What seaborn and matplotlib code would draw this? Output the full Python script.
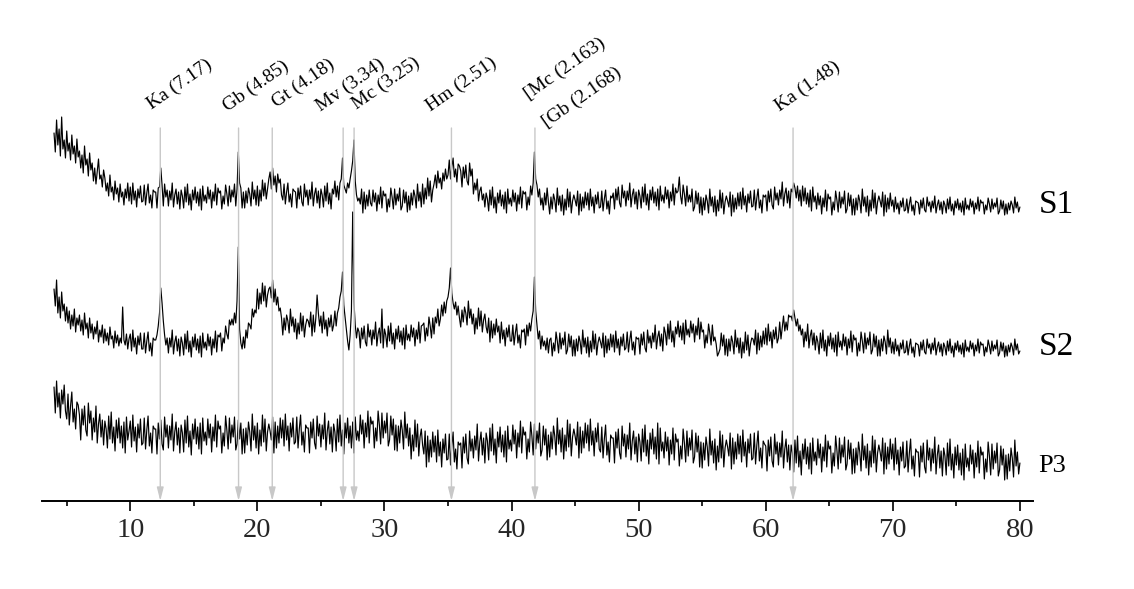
import numpy as np
import pandas as pd
import seaborn as sns
import matplotlib.pyplot as plt
from matplotlib.ticker import MultipleLocator

# ---------------- data ----------------
# 2-theta grid: 4.0 .. 80.0 deg, 0.1 deg step (one row below = one degree)
theta_start, theta_step = 4.0, 0.1

s1_counts = [
    368, 349, 381, 356, 372, 345, 384, 352, 361, 343,  # 4
    370, 350, 358, 341, 366, 347, 355, 338, 362, 344,  # 5
    350, 333, 346, 328, 355, 336, 342, 325, 348, 331,  # 6
    338, 320, 333, 317, 329, 342, 322, 326, 314, 331,  # 7
    323, 310, 318, 305, 326, 309, 314, 301, 320, 307,  # 8
    313, 299, 317, 304, 309, 296, 312, 303, 318, 300,  # 9
    314, 297, 318, 301, 310, 294, 312, 303, 315, 299,  # 10
    300, 316, 296, 308, 317, 298, 306, 293, 311, 309,  # 11
    309, 293, 313, 314, 333, 316, 295, 317, 304, 311,  # 12
    295, 310, 301, 318, 294, 306, 312, 297, 309, 292,  # 13
    311, 305, 293, 314, 299, 317, 296, 307, 291, 311,  # 14
    301, 314, 298, 309, 295, 312, 291, 315, 300, 306,  # 15
    298, 314, 302, 311, 293, 309, 300, 317, 296, 313,  # 16
    308, 310, 292, 305, 297, 316, 307, 295, 315, 299,  # 17
    311, 304, 317, 295, 312, 349, 318, 313, 293, 309,  # 18
    293, 310, 298, 313, 307, 295, 319, 302, 311, 296,  # 19
    315, 295, 311, 300, 321, 305, 318, 302, 312, 322,  # 20
    329, 312, 333, 316, 325, 309, 327, 318, 322, 306,  # 21
    301, 317, 297, 309, 318, 299, 307, 294, 312, 310,  # 22
    309, 293, 313, 302, 315, 299, 295, 317, 304, 311,  # 23
    296, 311, 302, 319, 295, 307, 313, 298, 310, 293,  # 24
    312, 306, 294, 315, 300, 318, 297, 308, 292, 312,  # 25
    307, 320, 304, 315, 301, 318, 322, 343, 316, 312,  # 26
    308, 318, 313, 322, 330, 340, 361, 320, 306, 300,  # 27
    303, 297, 312, 288, 309, 292, 306, 295, 311, 298,  # 28
    295, 311, 299, 308, 290, 306, 297, 314, 293, 310,  # 29
    305, 307, 289, 302, 294, 313, 304, 292, 312, 296,  # 30
    307, 300, 313, 291, 295, 311, 298, 309, 289, 305,  # 31
    291, 308, 296, 311, 305, 293, 317, 300, 309, 294,  # 32
    317, 297, 313, 302, 323, 305, 320, 299, 311, 317,  # 33
    326, 313, 330, 318, 323, 312, 328, 320, 332, 322,  # 34
    326, 341, 322, 334, 343, 324, 332, 319, 337, 335,  # 35
    330, 314, 334, 323, 336, 320, 316, 338, 325, 332,  # 36
    307, 318, 311, 322, 300, 310, 314, 301, 307, 294,  # 37
    308, 302, 290, 311, 296, 314, 293, 304, 288, 308,  # 38
    298, 311, 295, 306, 292, 309, 288, 312, 297, 303,  # 39
    295, 311, 299, 308, 290, 306, 297, 314, 293, 310,  # 40
    307, 309, 291, 304, 296, 315, 306, 318, 349, 322,  # 41
    316, 304, 312, 296, 303, 291, 308, 296, 313, 299,  # 42
    287, 304, 292, 307, 301, 289, 313, 296, 305, 290,  # 43
    306, 286, 302, 291, 312, 294, 309, 288, 300, 306,  # 44
    301, 295, 310, 286, 307, 290, 304, 293, 309, 296,  # 45
    308, 291, 312, 295, 304, 288, 306, 297, 309, 293,  # 46
    294, 310, 290, 302, 311, 292, 300, 287, 305, 303,  # 47
    308, 292, 312, 301, 314, 298, 294, 316, 303, 310,  # 48
    295, 310, 301, 318, 294, 306, 312, 297, 309, 292,  # 49
    311, 305, 293, 314, 299, 317, 296, 307, 291, 311,  # 50
    301, 314, 298, 309, 295, 312, 291, 315, 300, 306,  # 51
    298, 314, 302, 311, 293, 309, 300, 317, 296, 313,  # 52
    308, 310, 324, 305, 297, 316, 307, 295, 315, 299,  # 53
    306, 299, 312, 290, 294, 310, 297, 308, 288, 304,  # 54
    286, 303, 291, 306, 300, 288, 312, 295, 304, 289,  # 55
    305, 285, 301, 290, 311, 293, 308, 287, 299, 305,  # 56
    300, 294, 309, 285, 306, 289, 303, 292, 308, 295,  # 57
    309, 292, 313, 296, 305, 289, 307, 298, 310, 294,  # 58
    295, 311, 291, 303, 312, 293, 301, 288, 306, 304,  # 59
    306, 290, 310, 299, 312, 296, 292, 314, 301, 308,  # 60
    296, 311, 302, 319, 295, 307, 313, 298, 310, 293,  # 61
    312, 309, 318, 313, 303, 315, 300, 311, 295, 315,  # 62
    300, 313, 297, 308, 294, 311, 290, 314, 299, 305,  # 63
    292, 308, 296, 305, 287, 303, 294, 311, 290, 307,  # 64
    302, 304, 286, 299, 291, 310, 301, 289, 309, 293,  # 65
    304, 297, 310, 288, 292, 308, 295, 306, 286, 302,  # 66
    286, 303, 291, 306, 300, 288, 312, 295, 304, 289,  # 67
    305, 285, 301, 290, 311, 293, 308, 287, 299, 305,  # 68
    300, 294, 309, 285, 306, 289, 303, 292, 308, 295,  # 69
    301, 289, 304, 292, 298, 287, 300, 294, 303, 290,  # 70
    291, 302, 288, 297, 304, 290, 296, 286, 300, 299,  # 71
    298, 287, 301, 293, 303, 291, 289, 304, 295, 299,  # 72
    289, 300, 293, 305, 288, 296, 301, 291, 299, 287,  # 73
    300, 296, 288, 302, 292, 304, 290, 297, 286, 300,  # 74
    293, 302, 291, 298, 289, 300, 286, 303, 292, 296,  # 75
    291, 302, 294, 300, 287, 298, 292, 304, 290, 301,  # 76
    298, 299, 287, 296, 291, 303, 297, 289, 302, 292,  # 77
    298, 294, 303, 287, 290, 301, 292, 300, 286, 297,  # 78
    287, 298, 291, 300, 296, 288, 304, 293, 299, 289,  # 79
    294,                                               # 80
]

s2_counts = [
    212, 195, 221, 188, 204, 183, 209, 190, 197, 180,  # 4
    194, 178, 190, 172, 186, 175, 192, 169, 183, 176,  # 5
    186, 170, 181, 166, 188, 172, 178, 163, 183, 168,  # 6
    177, 162, 174, 167, 180, 159, 171, 164, 176, 158,  # 7
    172, 160, 168, 156, 174, 162, 165, 153, 170, 158,  # 8
    166, 155, 163, 158, 194, 161, 156, 167, 152, 162,  # 9
    167, 150, 171, 154, 163, 147, 165, 156, 168, 152,  # 10
    152, 168, 148, 160, 169, 150, 158, 145, 163, 161,  # 11
    161, 166, 175, 188, 213, 198, 180, 166, 156, 163,  # 12
    148, 163, 154, 171, 147, 159, 165, 150, 162, 145,  # 13
    164, 158, 146, 167, 152, 170, 149, 160, 144, 164,  # 14
    154, 167, 151, 162, 148, 165, 144, 168, 153, 159,  # 15
    151, 167, 155, 164, 146, 162, 153, 170, 149, 166,  # 16
    164, 168, 150, 163, 158, 175, 167, 162, 181, 176,  # 17
    182, 176, 188, 178, 200, 254, 172, 158, 152, 164,  # 18
    153, 171, 163, 178, 176, 172, 192, 184, 191, 188,  # 19
    212, 192, 208, 197, 218, 200, 215, 194, 206, 212,  # 20
    214, 203, 221, 199, 212, 196, 204, 190, 193, 183,  # 21
    166, 183, 171, 186, 180, 168, 192, 175, 184, 169,  # 22
    182, 162, 178, 167, 188, 170, 185, 164, 176, 182,  # 23
    180, 174, 189, 165, 186, 169, 183, 206, 188, 175,  # 24
    185, 168, 189, 172, 181, 165, 183, 174, 186, 170,  # 25
    176, 190, 175, 188, 193, 204, 210, 229, 196, 184,  # 26
    172, 160, 151, 166, 190, 289, 199, 176, 163, 173,  # 27
    169, 153, 173, 162, 175, 159, 155, 177, 164, 171,  # 28
    156, 171, 162, 179, 155, 167, 173, 158, 192, 153,  # 29
    172, 166, 154, 175, 160, 178, 157, 168, 152, 172,  # 30
    162, 175, 159, 170, 156, 173, 152, 176, 161, 167,  # 31
    160, 176, 164, 173, 155, 171, 162, 179, 158, 175,  # 32
    176, 178, 160, 173, 165, 184, 175, 163, 183, 167,  # 33
    184, 178, 192, 175, 182, 196, 185, 199, 188, 200,  # 34
    204, 213, 233, 208, 198, 192, 199, 186, 195, 183,  # 35
    174, 191, 179, 194, 188, 176, 200, 183, 192, 177,  # 36
    187, 167, 183, 172, 193, 175, 190, 169, 181, 187,  # 37
    174, 168, 183, 159, 180, 163, 177, 166, 182, 169,  # 38
    175, 158, 179, 162, 171, 155, 173, 164, 176, 160,  # 39
    160, 176, 156, 168, 177, 158, 166, 153, 171, 169,  # 40
    172, 156, 176, 165, 178, 170, 182, 190, 224, 190,  # 41
    176, 162, 170, 152, 165, 155, 160, 151, 163, 148,  # 42
    161, 163, 145, 158, 150, 169, 160, 148, 168, 152,  # 43
    163, 156, 169, 147, 151, 167, 154, 165, 145, 161,  # 44
    145, 162, 150, 165, 159, 147, 171, 154, 163, 148,  # 45
    164, 144, 160, 149, 170, 152, 167, 146, 158, 164,  # 46
    159, 153, 168, 144, 165, 148, 162, 151, 167, 154,  # 47
    166, 149, 170, 153, 162, 146, 164, 155, 167, 151,  # 48
    153, 169, 149, 161, 170, 151, 159, 146, 164, 162,  # 49
    163, 147, 167, 156, 169, 153, 149, 171, 158, 165,  # 50
    153, 168, 159, 176, 152, 164, 170, 155, 167, 150,  # 51
    174, 168, 156, 177, 162, 180, 159, 170, 154, 174,  # 52
    167, 180, 164, 175, 161, 178, 157, 181, 166, 172,  # 53
    164, 180, 168, 177, 159, 175, 166, 183, 162, 179,  # 54
    169, 171, 153, 166, 158, 177, 168, 156, 176, 160,  # 55
    164, 157, 145, 148, 152, 168, 155, 166, 146, 162,  # 56
    145, 162, 150, 165, 159, 147, 171, 154, 163, 148,  # 57
    163, 143, 159, 148, 169, 151, 166, 145, 157, 163,  # 58
    162, 156, 171, 147, 168, 151, 165, 154, 170, 157,  # 59
    173, 156, 177, 160, 169, 153, 171, 162, 174, 158,  # 60
    163, 179, 162, 174, 185, 170, 179, 171, 186, 184,  # 61
    185, 180, 191, 183, 175, 182, 170, 176, 166, 172,  # 62
    154, 169, 160, 177, 153, 165, 171, 156, 168, 151,  # 63
    165, 159, 147, 168, 153, 171, 150, 161, 145, 165,  # 64
    155, 168, 152, 163, 149, 166, 145, 169, 154, 160,  # 65
    151, 167, 155, 164, 146, 162, 153, 170, 149, 166,  # 66
    161, 163, 145, 158, 150, 169, 160, 148, 168, 152,  # 67
    163, 156, 169, 147, 151, 167, 154, 165, 145, 161,  # 68
    145, 162, 150, 165, 159, 147, 171, 154, 163, 148,  # 69
    159, 147, 162, 150, 156, 145, 158, 152, 161, 148,  # 70
    149, 160, 146, 155, 162, 148, 154, 144, 158, 157,  # 71
    156, 145, 159, 151, 161, 149, 147, 162, 153, 157,  # 72
    147, 158, 151, 163, 146, 154, 159, 149, 157, 145,  # 73
    158, 154, 146, 160, 150, 162, 148, 155, 144, 158,  # 74
    151, 160, 149, 156, 147, 158, 144, 161, 150, 154,  # 75
    149, 160, 152, 158, 145, 156, 150, 162, 148, 159,  # 76
    156, 157, 145, 154, 149, 161, 155, 147, 160, 150,  # 77
    156, 152, 161, 145, 148, 159, 150, 158, 144, 155,  # 78
    145, 156, 149, 158, 154, 146, 162, 151, 157, 147,  # 79
    150,                                               # 80
]

p3_counts = [
    114, 88, 120, 94, 108, 83, 111, 97, 116, 90,   # 4
    82, 107, 76, 95, 109, 79, 92, 72, 99, 96,      # 5
    86, 61, 92, 76, 95, 71, 65, 98, 78, 90,        # 6
    61, 83, 69, 95, 58, 77, 87, 64, 81, 56,        # 7
    80, 72, 53, 85, 62, 89, 58, 74, 50, 81,        # 8
    63, 83, 58, 75, 53, 79, 48, 84, 61, 70,        # 9
    80, 54, 86, 60, 74, 49, 77, 63, 82, 56,        # 10
    58, 83, 52, 71, 85, 55, 68, 48, 75, 72,        # 11
    72, 47, 78, 62, 81, 57, 51, 84, 64, 76,        # 12
    53, 75, 61, 87, 50, 69, 79, 56, 73, 48,        # 13
    76, 68, 49, 81, 58, 85, 54, 70, 46, 77,        # 14
    62, 82, 57, 74, 52, 78, 47, 83, 60, 69,        # 15
    56, 82, 63, 77, 49, 74, 60, 86, 54, 80,        # 16
    72, 75, 48, 68, 55, 85, 71, 52, 83, 58,        # 17
    76, 64, 84, 51, 57, 81, 62, 78, 47, 72,        # 18
    48, 73, 56, 79, 69, 50, 87, 61, 75, 53,        # 19
    78, 47, 71, 55, 86, 59, 82, 50, 69, 77,        # 20
    70, 61, 84, 48, 79, 53, 75, 58, 83, 63,        # 21
    81, 55, 87, 61, 75, 50, 78, 64, 83, 57,        # 22
    59, 84, 53, 72, 86, 56, 69, 49, 76, 73,        # 23
    73, 48, 79, 63, 82, 58, 52, 85, 65, 77,        # 24
    54, 76, 62, 88, 51, 70, 80, 57, 74, 49,        # 25
    77, 69, 50, 82, 59, 86, 55, 71, 47, 78,        # 26
    63, 83, 58, 75, 53, 79, 48, 84, 61, 70,        # 27
    60, 86, 67, 81, 53, 78, 64, 90, 58, 84,        # 28
    77, 80, 53, 73, 60, 90, 76, 57, 88, 63,        # 29
    80, 68, 88, 55, 61, 85, 66, 82, 51, 76,        # 30
    50, 75, 58, 81, 71, 52, 89, 63, 77, 55,        # 31
    73, 42, 66, 50, 81, 54, 77, 45, 64, 72,        # 32
    56, 47, 70, 34, 65, 39, 61, 44, 69, 49,        # 33
    65, 39, 71, 45, 59, 34, 62, 48, 67, 41,        # 34
    42, 67, 36, 55, 69, 39, 52, 32, 59, 56,        # 35
    58, 33, 64, 48, 67, 43, 37, 70, 50, 62,        # 36
    43, 65, 51, 77, 40, 59, 69, 46, 63, 38,        # 37
    68, 60, 41, 73, 50, 77, 46, 62, 38, 69,        # 38
    54, 74, 49, 66, 44, 70, 39, 75, 52, 61,        # 39
    50, 76, 57, 71, 43, 68, 54, 80, 48, 74,        # 40
    66, 69, 42, 62, 49, 79, 65, 46, 77, 52,        # 41
    70, 58, 78, 45, 51, 75, 56, 72, 41, 66,        # 42
    44, 69, 52, 75, 65, 46, 83, 57, 71, 49,        # 43
    73, 42, 66, 50, 81, 54, 77, 45, 64, 72,        # 44
    65, 56, 79, 43, 74, 48, 70, 53, 78, 58,        # 45
    76, 50, 82, 56, 70, 45, 73, 59, 78, 52,        # 46
    49, 74, 43, 62, 76, 46, 59, 39, 66, 63,        # 47
    63, 38, 69, 53, 72, 48, 42, 75, 55, 67,        # 48
    44, 66, 52, 78, 41, 60, 70, 47, 64, 39,        # 49
    67, 59, 40, 72, 49, 76, 45, 61, 37, 68,        # 50
    52, 72, 47, 64, 42, 78, 37, 73, 50, 59,        # 51
    43, 69, 50, 64, 36, 61, 47, 73, 41, 67,        # 52
    59, 62, 35, 55, 42, 72, 58, 39, 70, 45,        # 53
    63, 51, 71, 38, 44, 68, 49, 65, 34, 59,        # 54
    33, 58, 41, 64, 54, 35, 72, 46, 60, 38,        # 55
    62, 31, 55, 39, 70, 43, 66, 34, 53, 61,        # 56
    54, 45, 68, 32, 63, 37, 59, 42, 67, 47,        # 57
    65, 39, 71, 45, 59, 34, 62, 48, 67, 41,        # 58
    43, 68, 37, 56, 70, 40, 53, 33, 60, 57,        # 59
    55, 30, 61, 45, 64, 40, 34, 67, 47, 59,        # 60
    36, 58, 44, 70, 33, 52, 62, 39, 56, 31,        # 61
    56, 48, 29, 61, 38, 65, 34, 50, 26, 57,        # 62
    42, 62, 37, 54, 32, 58, 27, 63, 40, 49,        # 63
    36, 62, 43, 57, 29, 54, 40, 66, 34, 60,        # 64
    52, 55, 28, 48, 35, 65, 51, 32, 63, 38,        # 65
    56, 44, 64, 31, 37, 61, 42, 58, 27, 52,        # 66
    28, 53, 36, 59, 49, 30, 67, 41, 55, 33,        # 67
    57, 26, 50, 34, 65, 38, 61, 29, 48, 56,        # 68
    49, 40, 63, 27, 58, 32, 54, 37, 62, 42,        # 69
    57, 31, 63, 37, 51, 26, 54, 40, 59, 33,        # 70
    35, 60, 29, 48, 62, 32, 45, 25, 52, 49,        # 71
    49, 24, 55, 39, 58, 34, 28, 61, 41, 53,        # 72
    30, 52, 38, 64, 27, 46, 56, 33, 50, 25,        # 73
    53, 45, 26, 58, 35, 62, 31, 47, 23, 54,        # 74
    36, 56, 31, 48, 26, 52, 21, 57, 34, 43,        # 75
    30, 56, 37, 51, 23, 48, 34, 60, 28, 54,        # 76
    46, 49, 22, 42, 29, 59, 45, 26, 57, 32,        # 77
    50, 38, 58, 25, 31, 55, 36, 52, 21, 46,        # 78
    22, 47, 30, 53, 43, 24, 61, 35, 49, 27,        # 79
    38,                                            # 80
]

sample_names = ["S1", "S2", "P3"]

# reflection markers (2-theta positions) and their labels
peak_positions = [12.36, 18.52, 21.17, 26.75, 27.61, 35.27, 41.84, 62.15]
peak_labels = ["Ka (7.17)", "Gb (4.85)", "Gt (4.18)", "Mv (3.34)", "Mc (3.25)",
               "Hm (2.51)", "[Mc (2.163)", "[Gb (2.168)", "Ka (1.48)"]

# ---------------- layout / style ----------------
label_x = [11.72, 17.64, 21.55, 24.95, 27.84, 33.60, 41.31, 42.80, 61.11]
label_y = [391, 389, 393, 389, 391, 389, 401, 373, 389]
name_x = 81.45
name_y = [288, 146, 29]
name_size = [24, 24, 19]

sns.set_theme(style="white")
plt.rcParams['font.family'] = ['Liberation Serif', 'DejaVu Serif']

frames = []
for name, vals in zip(sample_names, [s1_counts, s2_counts, p3_counts]):
    assert len(vals) == 761, (name, len(vals))
    tt = theta_start + theta_step * np.arange(len(vals))
    frames.append(pd.DataFrame({"two_theta": tt, "intensity": vals, "sample": name}))
df = pd.concat(frames, ignore_index=True)

W, H = 1134, 589
fig = plt.figure(figsize=(W / 100, H / 100), dpi=100)
ax = fig.add_axes([41.7 / W, 88 / H, (1033 - 41.7) / W, 501 / H])

sns.lineplot(data=df, x="two_theta", y="intensity", units="sample", estimator=None,
             color="black", lw=0.85, ax=ax, legend=False)

ax.set_xlim(3.03, 81.03)
ax.set_ylim(0, 501)
ax.set_xlabel("")
ax.set_ylabel("")
ax.set_yticks([])
for s in ["top", "right", "left"]:
    ax.spines[s].set_visible(False)
ax.spines["bottom"].set_linewidth(1.4)
ax.spines["bottom"].set_color("black")

ax.set_xticks([10, 20, 30, 40, 50, 60, 70, 80])
ax.xaxis.set_minor_locator(MultipleLocator(5))
ax.tick_params(axis="x", which="major", direction="out", length=7, width=1.2,
               color="black", labelsize=20.5, pad=5, bottom=True)
ax.tick_params(axis="x", which="minor", direction="out", length=3.6, width=1.2,
               color="black", bottom=True)

# gray reflection arrows
for pos in peak_positions:
    ax.annotate("", xy=(pos, 0), xytext=(pos, 373),
                arrowprops=dict(arrowstyle="-|>,head_length=0.8,head_width=0.2",
                                color="#c8c8c8", lw=1.0, mutation_scale=10,
                                shrinkA=0, shrinkB=0),
                annotation_clip=False)

# rotated labels
for txt, lx, ly in zip(peak_labels, label_x, label_y):
    ax.text(lx, ly, txt, rotation=35, rotation_mode="anchor", ha="left", va="baseline",
            fontsize=14, color="black", clip_on=False)

# sample names
for name, ny, fs in zip(sample_names, name_y, name_size):
    ax.text(name_x, ny, name, ha="left", va="baseline", fontsize=fs, color="black",
            clip_on=False)

fig.savefig("out.png", dpi=100, facecolor="white")
